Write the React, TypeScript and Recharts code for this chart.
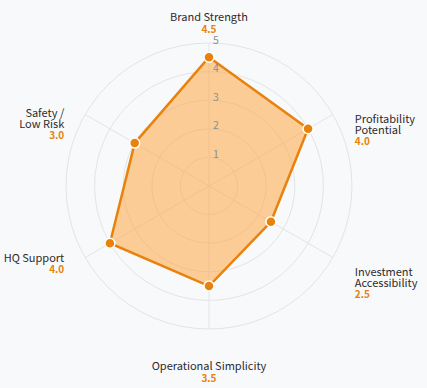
import { RadarChart, Radar, PolarGrid, PolarAngleAxis, PolarRadiusAxis } from "recharts";

const categories = [
  "Brand Strength",
  "Profitability Potential",
  "Investment Accessibility",
  "Operational Simplicity",
  "HQ Support",
  "Safety / Low Risk",
];

const labelLines = [
  ["Brand Strength"],
  ["Profitability", "Potential"],
  ["Investment", "Accessibility"],
  ["Operational Simplicity"],
  ["HQ Support"],
  ["Safety /", "Low Risk"],
];

const scores = [4.5, 4.0, 2.5, 3.5, 4.0, 3.0];

const data = categories.map((name, i) => ({ name, score: scores[i] }));

const ORANGE = "#e8820c";
const FONT = "'Noto Sans CJK JP', 'Noto Sans', sans-serif";

function AngleTick(props: any) {
  const { x, y, payload, index } = props;
  const i = typeof index === "number" ? index : categories.indexOf(payload.value);
  const lines = labelLines[i] || [payload.value];
  const value = scores[i].toFixed(1);
  const lh = 11;
  let anchor: "start" | "middle" | "end" = "middle";
  let tx = x;
  let ty = y;
  if (i === 0) {
    ty = y - 19;
  } else if (i === 3) {
    ty = y + 28;
  } else if (i === 1) {
    anchor = "start";
    tx = x + 15;
    ty = y + 7;
  } else if (i === 2) {
    anchor = "start";
    tx = x + 15;
    ty = y + 9;
  } else {
    anchor = "end";
    tx = x - 14;
    ty = i === 4 ? y - 5 : y + 1;
  }
  return (
    <g>
      {lines.map((l: string, k: number) => (
        <text
          key={k}
          x={tx}
          y={ty + k * lh}
          textAnchor={anchor}
          dominantBaseline="central"
          fontSize={11}
          fontFamily={FONT}
          fill="#2b2b2b"
        >
          {l}
        </text>
      ))}
      <text
        x={tx}
        y={ty + (lines.length - 1) * lh + 12}
        textAnchor={anchor}
        dominantBaseline="central"
        fontSize={10}
        fontWeight={700}
        fontFamily={FONT}
        fill={ORANGE}
      >
        {value}
      </text>
    </g>
  );
}

function RadiusTick(props: any) {
  const { x, y, payload } = props;
  if (payload.value === 0) return null;
  return (
    <text
      x={x + 4}
      y={y - 4}
      textAnchor="start"
      dominantBaseline="central"
      fontSize={10.5}
      fontFamily={FONT}
      fill="#8f8f8f"
    >
      {payload.value}
    </text>
  );
}

export default function App() {
  return (
    <div style={{ position: "fixed", left: 0, top: 0, width: 427, height: 388, background: "#f8f9fb" }}>
      <RadarChart width={427} height={388} data={data} cx={209} cy={186} outerRadius={143}>
        <PolarGrid gridType="circle" stroke="#e3e4e6" />
        <PolarAngleAxis dataKey="name" tick={<AngleTick />} tickLine={false} />
        <PolarRadiusAxis
          angle={90}
          domain={[0, 5]}
          tickCount={6}
          axisLine={false}
          tick={<RadiusTick />}
        />
        <Radar
          dataKey="score"
          stroke={ORANGE}
          strokeWidth={2.5}
          fill="#fdab4e"
          fillOpacity={0.58}
          dot={{ r: 5, fill: ORANGE, stroke: "#ffffff", strokeWidth: 1.5, fillOpacity: 1 }}
          isAnimationActive={false}
        />
      </RadarChart>
    </div>
  );
}
